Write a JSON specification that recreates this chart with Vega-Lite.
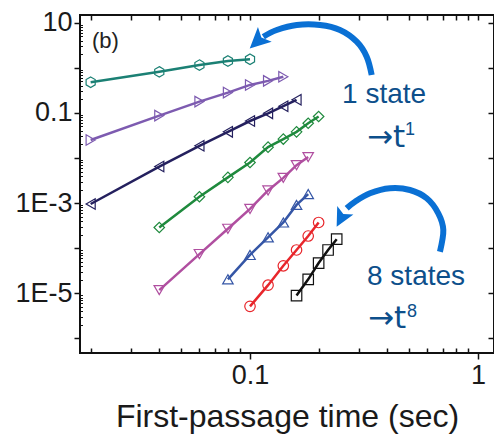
{
  "$schema": "https://vega.github.io/schema/vega-lite/v6.json",
  "width": 414,
  "height": 338,
  "autosize": "none",
  "padding": {"left": 80, "top": 15, "right": 0, "bottom": 86},
  "background": "white",
  "config": {
    "view": {"stroke": "#111111", "strokeWidth": 2},
    "axis": {"labelFont": "Liberation Sans", "titleFont": "Liberation Sans", "domain": false, "grid": false, "tickColor": "#111111", "tickWidth": 1.5, "labelColor": "#1a1a1a", "titleColor": "#1a1a1a"},
    "text": {"font": "Liberation Sans"}
  },
  "datasets": {
    "series": [
      {"states": "1", "x": 0.02, "y": 0.479}, {"states": "1", "x": 0.04, "y": 0.813}, {"states": "1", "x": 0.06, "y": 1.148}, {"states": "1", "x": 0.08, "y": 1.413}, {"states": "1", "x": 0.1, "y": 1.549},
      {"states": "2", "x": 0.02, "y": 0.0251}, {"states": "2", "x": 0.04, "y": 0.0871}, {"states": "2", "x": 0.06, "y": 0.178}, {"states": "2", "x": 0.08, "y": 0.282}, {"states": "2", "x": 0.1, "y": 0.417}, {"states": "2", "x": 0.12, "y": 0.513}, {"states": "2", "x": 0.14, "y": 0.631},
      {"states": "3", "x": 0.02, "y": 0.000955}, {"states": "3", "x": 0.04, "y": 0.00646}, {"states": "3", "x": 0.06, "y": 0.0186}, {"states": "3", "x": 0.08, "y": 0.038}, {"states": "3", "x": 0.1, "y": 0.0661}, {"states": "3", "x": 0.12, "y": 0.0977}, {"states": "3", "x": 0.14, "y": 0.141}, {"states": "3", "x": 0.16, "y": 0.195},
      {"states": "4", "x": 0.04, "y": 0.000288}, {"states": "4", "x": 0.06, "y": 0.00138}, {"states": "4", "x": 0.08, "y": 0.00372}, {"states": "4", "x": 0.1, "y": 0.00794}, {"states": "4", "x": 0.12, "y": 0.0174}, {"states": "4", "x": 0.14, "y": 0.0263}, {"states": "4", "x": 0.16, "y": 0.038}, {"states": "4", "x": 0.18, "y": 0.0589}, {"states": "4", "x": 0.2, "y": 0.0832},
      {"states": "5", "x": 0.04, "y": 0.00001175}, {"states": "5", "x": 0.06, "y": 0.0000741}, {"states": "5", "x": 0.08, "y": 0.000269}, {"states": "5", "x": 0.1, "y": 0.000741}, {"states": "5", "x": 0.12, "y": 0.001905}, {"states": "5", "x": 0.14, "y": 0.00363}, {"states": "5", "x": 0.16, "y": 0.00692}, {"states": "5", "x": 0.18, "y": 0.01047},
      {"states": "6", "x": 0.08, "y": 0.0000204}, {"states": "6", "x": 0.1, "y": 0.0000708}, {"states": "6", "x": 0.12, "y": 0.0001738}, {"states": "6", "x": 0.14, "y": 0.0003715}, {"states": "6", "x": 0.16, "y": 0.000912}, {"states": "6", "x": 0.18, "y": 0.001585},
      {"states": "7", "x": 0.1, "y": 0.00000513}, {"states": "7", "x": 0.12, "y": 0.00001514}, {"states": "7", "x": 0.14, "y": 0.0000407}, {"states": "7", "x": 0.16, "y": 0.0000912}, {"states": "7", "x": 0.18, "y": 0.0001862}, {"states": "7", "x": 0.2, "y": 0.0003715},
      {"states": "8", "x": 0.16, "y": 0.00000891}, {"states": "8", "x": 0.18, "y": 0.0000204}, {"states": "8", "x": 0.2, "y": 0.0000468}, {"states": "8", "x": 0.22, "y": 0.0000912}, {"states": "8", "x": 0.24, "y": 0.0001585}
    ],
    "arrows": [
      {"arrow": "a1", "order": 1, "x": 0.3418, "y": 0.692}, {"arrow": "a1", "order": 2, "x": 0.3249, "y": 1.762}, {"arrow": "a1", "order": 3, "x": 0.2938, "y": 3.791}, {"arrow": "a1", "order": 4, "x": 0.2481, "y": 6.888}, {"arrow": "a1", "order": 5, "x": 0.2028, "y": 8.89}, {"arrow": "a1", "order": 6, "x": 0.1603, "y": 8.89}, {"arrow": "a1", "order": 7, "x": 0.131, "y": 6.888}, {"arrow": "a1", "order": 8, "x": 0.1144, "y": 4.894},
      {"arrow": "a2", "order": 1, "x": 0.681, "y": 0.0000836}, {"arrow": "a2", "order": 2, "x": 0.7045, "y": 0.0002532}, {"arrow": "a2", "order": 3, "x": 0.6697, "y": 0.000594}, {"arrow": "a2", "order": 4, "x": 0.5957, "y": 0.001278}, {"arrow": "a2", "order": 5, "x": 0.503, "y": 0.001952}, {"arrow": "a2", "order": 6, "x": 0.4111, "y": 0.002129}, {"arrow": "a2", "order": 7, "x": 0.336, "y": 0.001649}, {"arrow": "a2", "order": 8, "x": 0.2887, "y": 0.001074}, {"arrow": "a2", "order": 9, "x": 0.2655, "y": 0.000767}
    ]
  },
  "layer": [
    {
      "data": {"name": "series"},
      "mark": {"type": "line", "strokeWidth": 2.5},
      "encoding": {
        "x": {"field": "x", "type": "quantitative", "scale": {"type": "log", "domain": [0.01796, 1.1755], "nice": false},
          "axis": {"orient": "bottom", "values": [0.1, 1], "tickSize": 6, "labelExpr": "datum.value == 1 ? '1' : '0.1'", "labelFontSize": 27, "labelPadding": 3, "title": "First-passage time (sec)", "titleFontSize": 32, "titleFontWeight": "normal", "titlePadding": 13}},
        "y": {"field": "y", "type": "quantitative", "scale": {"type": "log", "domain": [0.000000474, 14.82], "nice": false},
          "axis": {"orient": "left", "values": [10, 1, 0.1, 0.01, 0.001, 0.0001, 0.00001, 0.000001], "tickSize": 6, "labelExpr": "datum.value == 10 ? '10' : datum.value == 0.1 ? '0.1' : datum.value == 0.001 ? '1E-3' : datum.value == 0.00001 ? '1E-5' : ''", "labelFontSize": 27, "labelPadding": 2, "title": null}},
        "color": {"field": "states", "type": "nominal", "legend": null,
          "scale": {"domain": ["1", "2", "3", "4", "5", "6", "7", "8"], "range": ["#1b8074", "#7d5bb0", "#24205e", "#1f8a3d", "#b04fa0", "#3556a6", "#e8262b", "#111111"]}},
        "order": {"field": "x", "type": "quantitative"}
      }
    },
    {
      "data": {"name": "series"},
      "mark": {"type": "point", "filled": false, "strokeWidth": 1.2, "size": 110, "opacity": 1},
      "encoding": {
        "x": {"field": "x", "type": "quantitative", "axis": null},
        "y": {"field": "y", "type": "quantitative", "axis": null},
        "color": {"field": "states", "type": "nominal", "legend": null},
        "shape": {"field": "states", "type": "nominal", "legend": null,
          "scale": {"domain": ["1", "2", "3", "4", "5", "6", "7", "8"], "range": ["M0,-1L0.866,-0.5L0.866,0.5L0,1L-0.866,0.5L-0.866,-0.5Z", "triangle-right", "triangle-left", "diamond", "triangle-down", "triangle-up", "circle", "square"]}}
      }
    },
    {
      "data": {"name": "series"},
      "mark": {"type": "point", "opacity": 0},
      "encoding": {
        "x": {"field": "x", "type": "quantitative", "axis": {"orient": "bottom", "values": [0.02, 0.03, 0.04, 0.05, 0.06, 0.07, 0.08, 0.09, 0.2, 0.3, 0.4, 0.5, 0.6, 0.7, 0.8, 0.9], "tickSize": -5, "labels": false, "title": null}},
        "y": {"field": "y", "type": "quantitative", "axis": {"orient": "left", "values": [2, 3, 4, 5, 6, 7, 8, 9, 0.2, 0.3, 0.4, 0.5, 0.6, 0.7, 0.8, 0.9, 0.02, 0.03, 0.04, 0.05, 0.06, 0.07, 0.08, 0.09, 0.002, 0.003, 0.004, 0.005, 0.006, 0.007, 0.008, 0.009, 0.0002, 0.0003, 0.0004, 0.0005, 0.0006, 0.0007, 0.0008, 0.0009, 0.00002, 0.00003, 0.00004, 0.00005, 0.00006, 0.00007, 0.00008, 0.00009, 0.000002, 0.000003, 0.000004, 0.000005, 0.000006, 0.000007, 0.000008, 0.000009], "tickSize": -2.5, "tickWidth": 1, "labels": false, "title": null}}
      }
    },
    {
      "data": {"name": "series"},
      "mark": {"type": "point", "opacity": 0},
      "encoding": {
        "x": {"field": "x", "type": "quantitative", "axis": {"orient": "top", "values": [0.02, 0.03, 0.04, 0.05, 0.06, 0.07, 0.08, 0.09, 0.1, 0.2, 0.3, 0.4, 0.5, 0.6, 0.7, 0.8, 0.9, 1], "tickSize": -5, "labels": false, "title": null}},
        "y": {"field": "y", "type": "quantitative", "axis": {"orient": "right", "values": [10, 1, 0.1, 0.01, 0.001, 0.0001, 0.00001, 0.000001], "tickSize": -6, "labels": false, "title": null}}
      }
    },
    {
      "data": {"name": "arrows"},
      "mark": {"type": "line", "color": "#0a70d4", "strokeWidth": 6, "interpolate": "cardinal", "strokeCap": "butt"},
      "encoding": {
        "x": {"field": "x", "type": "quantitative", "axis": null},
        "y": {"field": "y", "type": "quantitative", "axis": null},
        "detail": {"field": "arrow", "type": "nominal"},
        "order": {"field": "order", "type": "quantitative"}
      }
    },
    {
      "data": {"values": [{"x": 0.1088, "y": 4.05}]},
      "mark": {"type": "point", "shape": "M0,-1L0.85,0.75L0,0.35L-0.85,0.75Z", "filled": true, "color": "#0a70d4", "opacity": 1, "size": 560, "angle": 226.8},
      "encoding": {
        "x": {"field": "x", "type": "quantitative", "axis": null},
        "y": {"field": "y", "type": "quantitative", "axis": null}
      }
    },
    {
      "data": {"values": [{"x": 0.2522, "y": 0.000484}]},
      "mark": {"type": "point", "shape": "M0,-1L0.85,0.75L0,0.35L-0.85,0.75Z", "filled": true, "color": "#0a70d4", "opacity": 1, "size": 460, "angle": 207.5},
      "encoding": {
        "x": {"field": "x", "type": "quantitative", "axis": null},
        "y": {"field": "y", "type": "quantitative", "axis": null}
      }
    },
    {
      "data": {"values": [{"x": 0.2533, "y": 0.1658, "label": "1 state"}, {"x": 0.326, "y": 0.00001528, "label": "8 states"}]},
      "mark": {"type": "text", "align": "left", "baseline": "alphabetic", "fontSize": 28, "color": "#0d4f8b"},
      "encoding": {
        "x": {"field": "x", "type": "quantitative", "axis": null},
        "y": {"field": "y", "type": "quantitative", "axis": null},
        "text": {"field": "label"}
      }
    },
    {
      "data": {"values": [{"x": 0.326, "y": 0.01754, "label": "→t"}, {"x": 0.3293, "y": 0.000001702, "label": "→t"}]},
      "mark": {"type": "text", "align": "left", "baseline": "alphabetic", "fontSize": 31, "font": "DejaVu Sans", "color": "#0d4f8b"},
      "encoding": {
        "x": {"field": "x", "type": "quantitative", "axis": null},
        "y": {"field": "y", "type": "quantitative", "axis": null},
        "text": {"field": "label"}
      }
    },
    {
      "data": {"values": [{"x": 0.4783, "y": 0.03236, "label": "1"}, {"x": 0.4883, "y": 0.00000298, "label": "8"}]},
      "mark": {"type": "text", "align": "left", "baseline": "alphabetic", "fontSize": 18, "color": "#0d4f8b"},
      "encoding": {
        "x": {"field": "x", "type": "quantitative", "axis": null},
        "y": {"field": "y", "type": "quantitative", "axis": null},
        "text": {"field": "label"}
      }
    },
    {
      "data": {"values": [{"x": 0.02028, "y": 2.79, "label": "(b)"}]},
      "mark": {"type": "text", "align": "left", "baseline": "alphabetic", "fontSize": 22, "color": "#222222"},
      "encoding": {
        "x": {"field": "x", "type": "quantitative", "axis": null},
        "y": {"field": "y", "type": "quantitative", "axis": null},
        "text": {"field": "label"}
      }
    }
  ],
  "resolve": {"axis": {"x": "independent", "y": "independent"}}
}
